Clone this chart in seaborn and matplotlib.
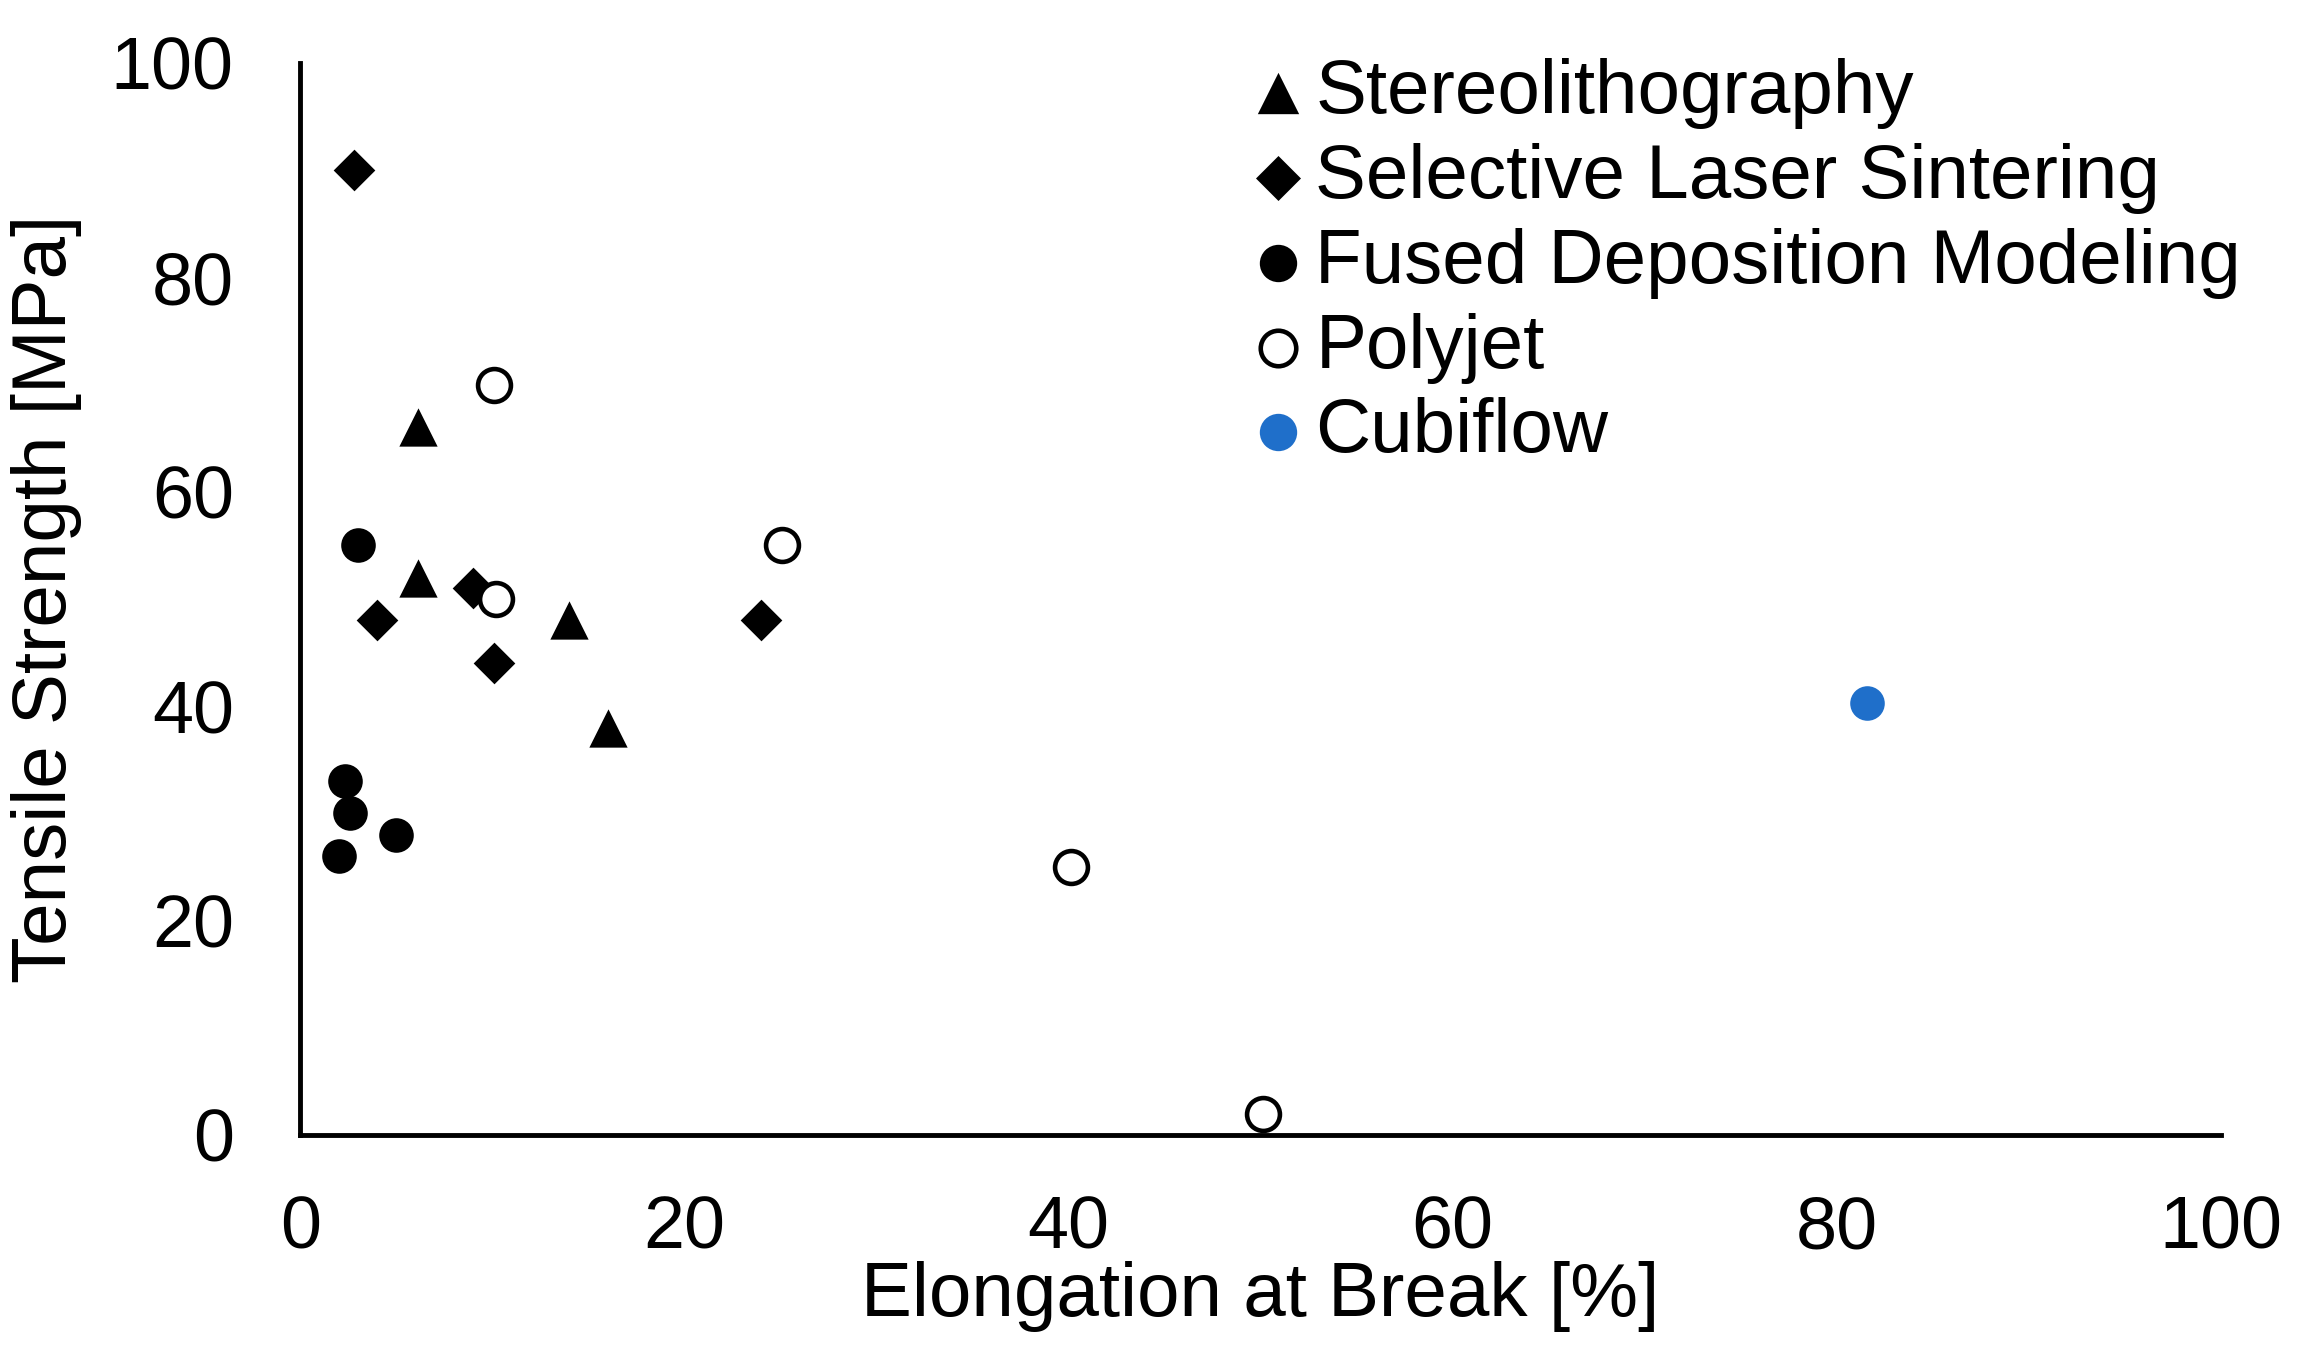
import matplotlib
matplotlib.use("Agg")
import matplotlib.pyplot as plt
import seaborn as sns
import pandas as pd

# ---- data ----
sla_x = [6.1, 6.1, 14.0, 16.0]
sla_y = [66.0, 52.0, 48.0, 38.0]

sls_x = [2.8, 4.0, 9.0, 10.1, 24.0]
sls_y = [90.0, 48.0, 51.0, 44.0, 48.0]

fdm_x = [3.0, 2.3, 2.6, 2.0, 5.0]
fdm_y = [55.0, 33.0, 30.0, 26.0, 28.0]

poly_x = [10.1, 10.2, 25.1, 40.1, 50.1]
poly_y = [70.0, 50.0, 55.0, 25.0, 2.0]

cubi_x = [81.6]
cubi_y = [40.3]

series_names = ["Stereolithography", "Selective Laser Sintering",
                "Fused Deposition Modeling", "Polyjet", "Cubiflow"]
x_ticks = [0, 20, 40, 60, 80, 100]
y_ticks = [0, 20, 40, 60, 80, 100]

sns.set_theme(style="white")
plt.rcParams['font.family'] = ['Liberation Sans', 'DejaVu Sans']

fig = plt.figure(figsize=(22.99, 13.57), dpi=100)
ax = fig.add_axes([0.1307, 0.1636, 0.966 - 0.1307, 0.9536 - 0.1636])

styles = [
    (sla_x, sla_y, "^", "black", "black", 760, 0),
    (sls_x, sls_y, "D", "black", "black", 450, 0),
    (fdm_x, fdm_y, "o", "black", "black", 620, 0),
    (poly_x, poly_y, "o", "white", "black", 560, 3.3),
    (cubi_x, cubi_y, "o", "#1f6fca", "#1f6fca", 620, 0),
]

for name, (xs, ys, mk, fc, ec, s, lw) in zip(series_names, styles):
    df = pd.DataFrame({"x": xs, "y": ys})
    sns.scatterplot(data=df, x="x", y="y", marker=mk, s=s, color=fc,
                    edgecolor=ec, linewidth=lw, ax=ax, label=name,
                    clip_on=False, zorder=3)

ax.set_xlim(0, 100)
ax.set_ylim(0, 100)
ax.set_xticks(x_ticks)
ax.set_yticks(y_ticks)
ax.set_xticklabels([str(v) for v in x_ticks])
ax.set_yticklabels([str(v) for v in y_ticks])
ax.tick_params(axis='both', length=0, labelsize=53, colors='black')
ax.tick_params(axis='x', pad=43)
ax.tick_params(axis='y', pad=48)

for side in ["top", "right"]:
    ax.spines[side].set_visible(False)
for side in ["left", "bottom"]:
    ax.spines[side].set_color("black")
    ax.spines[side].set_linewidth(3.5)

ax.set_xlabel("Elongation at Break [%]", fontsize=55, color='black')
ax.set_ylabel("Tensile Strength [MPa]", fontsize=55, color='black')
ax.xaxis.set_label_coords(0.5, -0.118)
ax.yaxis.set_label_coords(-0.114, 0.5)
ax.grid(False)

leg = ax.legend(loc="upper left", bbox_to_anchor=(0.5466, 0.957),
                bbox_transform=fig.transFigure, frameon=False,
                fontsize=55, markerscale=1.08, handlelength=0.55,
                handletextpad=0.22, labelspacing=0.18, borderpad=0,
                borderaxespad=0)
for t in leg.get_texts():
    t.set_color("black")

fig.savefig("out.png", dpi=100)
